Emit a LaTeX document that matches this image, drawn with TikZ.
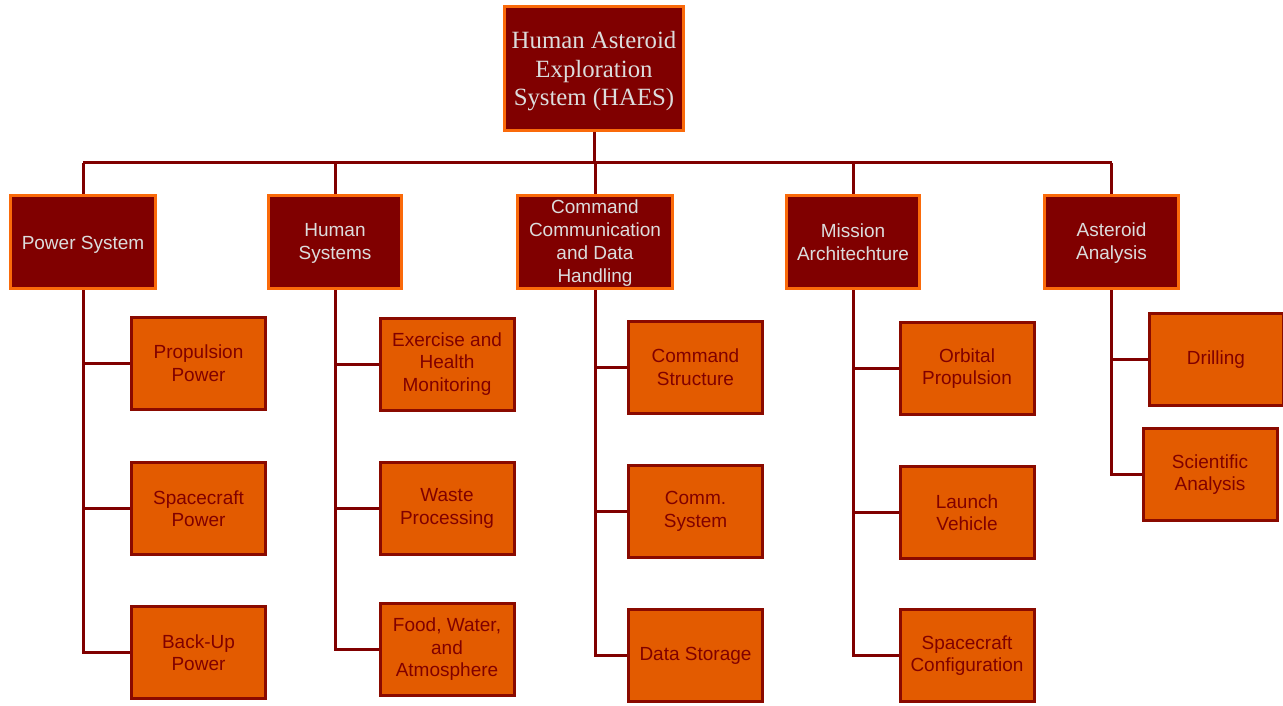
\documentclass[tikz,border=0pt]{standalone}
\usepackage{fontspec}
\setmainfont{Liberation Serif}
\setsansfont{Liberation Sans}
\definecolor{darkred}{HTML}{800000}
\definecolor{brdorange}{HTML}{FA6A0A}
\definecolor{childfill}{HTML}{E35B00}
\definecolor{childbrd}{HTML}{8A0A00}
\definecolor{lighttext}{HTML}{DCDCDC}
\tikzset{
  topbox/.style={draw=brdorange, fill=darkred, line width=3pt, text=lighttext,
    align=center, inner sep=0pt, font=\rmfamily\fontsize{24.8}{28.5}\selectfont},
  lvlbox/.style={draw=brdorange, fill=darkred, line width=3pt, text=lighttext,
    align=center, inner sep=0pt, font=\sffamily\fontsize{19}{22.7}\selectfont},
  childbox/.style={draw=childbrd, fill=childfill, line width=3pt, text=darkred,
    align=center, inner sep=0pt, minimum width=134pt, minimum height=92pt,
    font=\sffamily\fontsize{19}{22.5}\selectfont},
  conn/.style={draw=darkred, line width=3pt}
}
\begin{document}
\begin{tikzpicture}[x=1pt,y=-1pt]
\useasboundingbox (0,0) rectangle (1283,706);
\coordinate (busL) at (83,163);
\coordinate (busR) at (1112,163);

% top
\node[topbox, minimum width=179pt, minimum height=124pt] (top) at (594,68.5)
  {\rule{0pt}{23pt}Human Asteroid\\Exploration\\System (HAES)};

% level 1
\node[lvlbox, minimum width=145pt, minimum height=93pt] (ps) at (83,242) {\rule{0pt}{19.5pt}Power System};
\node[lvlbox, minimum width=133pt, minimum height=93pt] (hs) at (335,242) {\rule{0pt}{16pt}Human\\Systems};
\node[lvlbox, minimum width=155pt, minimum height=93pt] (cc) at (595,242) {\rule{0pt}{16pt}Command\\Communication\\and Data\\Handling};
\node[lvlbox, minimum width=133pt, minimum height=93pt] (ma) at (853,242) {Mission\\Architechture};
\node[lvlbox, minimum width=134pt, minimum height=93pt] (aa) at (1111.5,242) {\rule{0pt}{16pt}Asteroid\\Analysis};

% children: power
\node[childbox] (p1) at (198.5,363) {Propulsion\\Power};
\node[childbox] (p2) at (198.5,508.5) {Spacecraft\\Power};
\node[childbox] (p3) at (198.5,652.5) {Back-Up\\Power};
% human
\node[childbox] (h1) at (447,364) {Exercise and\\Health\\Monitoring};
\node[childbox] (h2) at (447,508.5) {Waste\\Processing};
\node[childbox] (h3) at (447,649.5) {Food, Water,\\and\\Atmosphere};
% command
\node[childbox] (c1) at (695.5,367) {Command\\Structure};
\node[childbox] (c2) at (695.5,511.5) {Comm.\\System};
\node[childbox] (c3) at (695.5,655.5) {Data Storage};
% mission
\node[childbox] (m1) at (967,368.5) {Orbital\\Propulsion};
\node[childbox] (m2) at (967,512.5) {Launch\\Vehicle};
\node[childbox] (m3) at (967,655.5) {Spacecraft\\Configuration};
% asteroid
\node[childbox] (a1) at (1216,359.5) {Drilling};
\node[childbox] (a2) at (1210,474.5) {Scientific\\Analysis};

% bus and drops
\draw[conn] (busL) -- (busR);
\draw[conn] (top.south) -- (top.south |- busL);
\foreach \n in {ps,hs,cc,ma,aa}{
  \draw[conn] (\n.north) -- (\n.north |- busL);
}
% trunks
\draw[conn] (ps.south) |- (p3.west);
\draw[conn] (ps.south |- p1.west) -- (p1.west);
\draw[conn] (ps.south |- p2.west) -- (p2.west);
\draw[conn] (hs.south) |- (h3.west);
\draw[conn] (hs.south |- h1.west) -- (h1.west);
\draw[conn] (hs.south |- h2.west) -- (h2.west);
\draw[conn] (cc.south) |- (c3.west);
\draw[conn] (cc.south |- c1.west) -- (c1.west);
\draw[conn] (cc.south |- c2.west) -- (c2.west);
\draw[conn] (ma.south) |- (m3.west);
\draw[conn] (ma.south |- m1.west) -- (m1.west);
\draw[conn] (ma.south |- m2.west) -- (m2.west);
\draw[conn] (aa.south) |- (a2.west);
\draw[conn] (aa.south |- a1.west) -- (a1.west);
\end{tikzpicture}
\end{document}
